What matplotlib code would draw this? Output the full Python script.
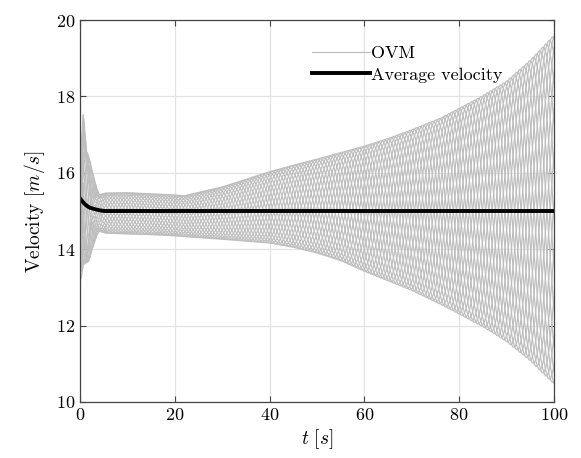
import numpy as np
import matplotlib
matplotlib.use("Agg")
import matplotlib.pyplot as plt

plt.rcParams['font.family'] = 'serif'
plt.rcParams['font.serif'] = ['cmr10']
plt.rcParams['mathtext.fontset'] = 'cm'
plt.rcParams['axes.formatter.use_mathtext'] = True

# band edges of the OVM velocities
t_env = [0, 0.7, 1.4, 2.0, 2.5, 3.0, 3.5, 4.0, 5, 10, 15, 20, 22, 30, 40, 45, 50, 55, 60, 65, 70, 76, 80, 85, 90, 95, 100]
v_upper = [16.1, 17.7, 17.1, 16.5, 16.1, 15.85, 15.65, 15.54, 15.47, 15.48, 15.45, 15.42, 15.40, 15.63, 16.03, 16.2, 16.36, 16.53, 16.7, 16.9, 17.13, 17.43, 17.69, 18.02, 18.4, 18.95, 19.6]
v_lower = [13.1, 13.45, 13.1, 13.6, 13.95, 14.15, 14.3, 14.36, 14.42, 14.4, 14.38, 14.35, 14.33, 14.26, 14.16, 14.05, 13.9, 13.7, 13.42, 13.17, 12.92, 12.56, 12.3, 11.97, 11.58, 11.08, 10.47]

# extra wobble in the first seconds
t_trans = [0, 0.7, 1.5, 2.5, 3.5, 4.5, 6]
a_trans = [0.45, 0.45, 0.35, 0.2, 0.1, 0.04, 0.0]

# average velocity
t_avg = [0, 0.5, 1, 1.5, 2, 3, 4, 5, 100]
v_avg = [15.33, 15.25, 15.18, 15.13, 15.09, 15.05, 15.02, 15.0, 15.0]

n_veh = 22
period = 15.0
period_trans = 1.8

t = np.arange(0, 100.01, 0.02)
center = (np.interp(t, t_env, v_upper) + np.interp(t, t_env, v_lower)) / 2
half = (np.interp(t, t_env, v_upper) - np.interp(t, t_env, v_lower)) / 2
amp0 = np.interp(t, t_trans, a_trans)

fig, ax = plt.subplots(figsize=(5.81, 4.58), dpi=100)
fig.subplots_adjust(left=0.1377, right=0.9535, bottom=0.1223, top=0.9563)

for i in range(n_veh):
    ph = 2 * np.pi * i / n_veh
    v = center + (half - amp0) * np.cos(2 * np.pi * t / period + ph) \
        + amp0 * np.cos(2 * np.pi * t / period_trans + 3 * ph)
    ax.plot(t, v, color='#bebebe', lw=0.9,
            label='OVM' if i == 0 else None)

ax.plot(t, np.interp(t, t_avg, v_avg), color='k', lw=2.8, label='Average velocity')

ax.set_xlim(0, 100)
ax.set_ylim(10, 20)
ax.set_xticks(range(0, 101, 20))
ax.set_yticks(range(10, 21, 2))
ax.grid(True, color='#e3e3e3', lw=0.9)
ax.set_axisbelow(True)
ax.tick_params(direction='in', top=True, right=True, labelsize=13, length=4,
               color='#444444')
for s in ax.spines.values():
    s.set_color('#444444')
    s.set_linewidth(0.9)

ax.set_xlabel('$t\\ [s]$', fontsize=14, labelpad=3)
ax.set_ylabel('Velocity $[m/s]$', fontsize=14, labelpad=6)

ax.legend(loc='upper left', bbox_to_anchor=(0.455, 0.975), frameon=False,
          fontsize=13, handlelength=3.2, handletextpad=0.1, labelspacing=0.3)

plt.savefig('out.png', dpi=100)
